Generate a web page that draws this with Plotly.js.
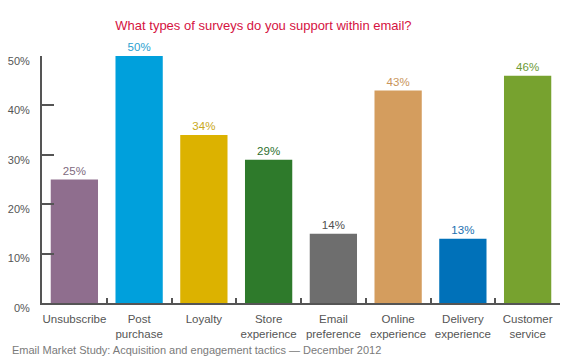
<!DOCTYPE html>
<html><head><meta charset="utf-8">
<script src="https://cdn.plot.ly/plotly-3.0.1.min.js"></script>
<style>html,body{margin:0;padding:0;background:#fff}#chart{width:569px;height:364px}</style>
</head><body><div id="chart"></div>
<script>
var categories = ["Unsubscribe", "Post<br>purchase", "Loyalty", "Store<br>experience", "Email<br>preference", "Online<br>experience", "Delivery<br>experience", "Customer<br>service"];
var values = [25, 50, 34, 29, 14, 43, 13, 46];
var barColors = ["#8f6e8e", "#00a0dc", "#dcb200", "#2e7a2b", "#6e6e6e", "#d49d5e", "#0071b9", "#77a22f"];
var labelColors = ["#7e6a80", "#2a9fd0", "#c9a820", "#2e6f2e", "#505050", "#c9955a", "#1a6fb0", "#6d9a35"];
var yTicks = [0, 10, 20, 30, 40, 50];
var yTickText = ["0%", "10%", "20%", "30%", "40%", "50%"];
var fontFam = "Liberation Sans, Arial, sans-serif";

var trace = {
  type: "bar",
  x: categories,
  y: values,
  marker: {color: barColors},
  text: values.map(function(v){return v + "%";}),
  textposition: "outside",
  textfont: {family: fontFam, size: 11.5, color: labelColors},
  cliponaxis: false,
  hoverinfo: "none"
};

var layout = {
  width: 569, height: 364,
  margin: {l: 42, r: 9, t: 56, b: 61},
  paper_bgcolor: "#fff", plot_bgcolor: "#fff",
  showlegend: false,
  bargap: 0.27,
  title: {text: "What types of surveys do you support within email?", font: {family: fontFam, size: 13, color: "#d5123f"}, x: 0.463, xanchor: "center", y: 0.93, yanchor: "middle"},
  xaxis: {
    type: "category",
    showline: true, linecolor: "#555", linewidth: 2,
    ticks: "inside", tickson: "boundaries", ticklen: 5, tickwidth: 2, tickcolor: "#555",
    tickfont: {family: fontFam, size: 11.5, color: "#555"},
    tickangle: 0,
    ticklabelstandoff: 4,
    showgrid: false, zeroline: false, fixedrange: true
  },
  yaxis: {
    range: [0, 50],
    tickvals: yTicks, ticktext: yTickText,
    showline: true, linecolor: "#555", linewidth: 2,
    ticks: "inside", ticklen: 12, tickwidth: 2, tickcolor: "#555",
    tickfont: {family: fontFam, size: 11, color: "#555"},
    ticklabelstandoff: 8,
    ticklabelshift: 5,
    showgrid: false, zeroline: false, fixedrange: true
  },
  annotations: [{
    text: "Email Market Study: Acquisition and engagement tactics \u2014 December 2012",
    xref: "paper", yref: "paper", x: -0.062, y: -0.19, xanchor: "left", yanchor: "middle",
    yshift: 0, showarrow: false,
    font: {family: fontFam, size: 11, color: "#7a7a7a"}
  }]
};

Plotly.newPlot("chart", [trace], layout, {displayModeBar: false, staticPlot: true});
</script>
</body></html>
